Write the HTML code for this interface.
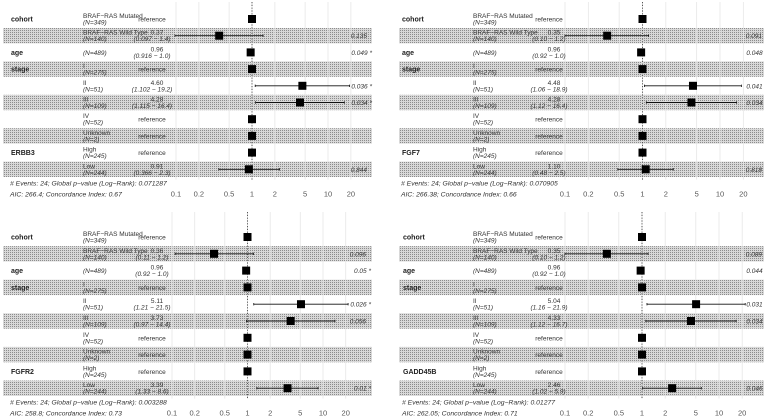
<!DOCTYPE html>
<html><head><meta charset="utf-8">
<style>
html,body{margin:0;padding:0;background:#fff;}
svg{display:block;font-family:"Liberation Sans",sans-serif;}
</style></head>
<body>
<svg id="chart" width="764" height="419" viewBox="0 0 764 419" xmlns="http://www.w3.org/2000/svg">
<defs>
<pattern id="grid" width="2" height="2" patternUnits="userSpaceOnUse">
<rect width="2" height="2" fill="#d8d8d8"/>
<rect width="1" height="1" fill="#8c8c8c"/>
</pattern>
</defs>
</svg>
<script>
const variables = ["cohort","","age","stage","","","","","GENE",""];
const levels = ["BRAF\u2212RAS Mutated","BRAF\u2212RAS Wild Type","","I","II","III","IV","Unknown","High","Low"];
const counts = [349,140,489,275,51,109,52,2,245,244];
const isRef = [true,false,false,true,false,false,true,true,true,false];
const genes = ["ERBB3","FGF7","FGFR2","GADD45B"];
const estTL = [1,0.37,0.96,1,4.60,4.28,1,1,1,0.91];
const loTL  = [1,0.097,0.916,1,1.102,1.115,1,1,1,0.366];
const hiTL  = [1,1.4,1.0,1,19.2,16.4,1,1,1,2.3];
const pTL   = ["","0.135","0.049 *","","0.036 *","0.034 *","","","","0.844"];
const estTR = [1,0.35,0.96,1,4.48,4.28,1,1,1,1.10];
const loTR  = [1,0.10,0.92,1,1.06,1.12,1,1,1,0.48];
const hiTR  = [1,1.2,1.0,1,18.9,16.4,1,1,1,2.5];
const pTR   = ["","0.091","0.048 *","","0.041 *","0.034 *","","","","0.818"];
const estBL = [1,0.36,0.96,1,5.11,3.73,1,1,1,3.39];
const loBL  = [1,0.11,0.92,1,1.21,0.97,1,1,1,1.33];
const hiBL  = [1,1.2,1.0,1,21.5,14.4,1,1,1,8.6];
const pBL   = ["","0.096","0.05 *","","0.026 *","0.056","","","","0.01 *"];
const estBR = [1,0.35,0.96,1,5.04,4.33,1,1,1,2.46];
const loBR  = [1,0.10,0.92,1,1.16,1.12,1,1,1,1.02];
const hiBR  = [1,1.2,1.0,1,21.9,16.7,1,1,1,5.9];
const pBR   = ["","0.089","0.044 *","","0.031 *","0.034 *","","","","0.046 *"];
const estLabels = [
 ["reference","0.37","0.96","reference","4.60","4.28","reference","reference","reference","0.91"],
 ["reference","0.35","0.96","reference","4.48","4.28","reference","reference","reference","1.10"],
 ["reference","0.36","0.96","reference","5.11","3.73","reference","reference","reference","3.39"],
 ["reference","0.35","0.96","reference","5.04","4.33","reference","reference","reference","2.46"]];
const ciLabels = [
 ["","(0.097 \u2212  1.4)","(0.916 \u2212  1.0)","","(1.102 \u2212 19.2)","(1.115 \u2212 16.4)","","","","(0.366 \u2212  2.3)"],
 ["","(0.10 \u2212  1.2)","(0.92 \u2212  1.0)","","(1.06 \u2212 18.9)","(1.12 \u2212 16.4)","","","","(0.48 \u2212  2.5)"],
 ["","(0.11 \u2212  1.2)","(0.92 \u2212  1.0)","","(1.21 \u2212 21.5)","(0.97 \u2212 14.4)","","","","(1.33 \u2212  8.6)"],
 ["","(0.10 \u2212  1.2)","(0.92 \u2212  1.0)","","(1.16 \u2212 21.9)","(1.12 \u2212 16.7)","","","","(1.02 \u2212  5.9)"]];
const globalP = ["0.071287","0.070905","0.003288","0.01277"];
const aic = ["266.4","266.38","258.8","262.05"];
const cindex = ["0.67","0.66","0.73","0.71"];
const ticks = [0.1,0.2,0.5,1,2,5,10,20];
const tickLabels = ["0.1","0.2","0.5","1","2","5","10","20"];

const svg = document.getElementById('chart');
const NS = "http://www.w3.org/2000/svg";
function mk(tag, attrs, parent){const e=document.createElementNS(NS,tag);for(const k in attrs)e.setAttribute(k,attrs[k]);(parent||svg).appendChild(e);return e;}
function txt(s, attrs, parent){const e=mk('text',attrs,parent);e.textContent=s;return e;}

const panels = [
 {ox:0,oy:0,nameX:11,levelX:83,estX:152,ax0:176,dec:76,pR:367,sx0:3,sx1:372,row0:19,pitch:16.7,f1:183,f2:194,est:estTL,lo:loTL,hi:hiTL,p:pTL},
 {ox:382,oy:0,nameX:402,levelX:473,estX:549,ax0:565,dec:77.5,pR:762,sx0:399,sx1:764,row0:19,pitch:16.7,f1:183,f2:194,est:estTR,lo:loTR,hi:hiTR,p:pTR},
 {ox:0,oy:210,nameX:11,levelX:83,estX:152,ax0:172,dec:75.5,pR:366,sx0:3,sx1:372,row0:237,pitch:16.8,f1:402,f2:413,est:estBL,lo:loBL,hi:hiBL,p:pBL},
 {ox:382,oy:210,nameX:403,levelX:473,estX:549,ax0:565,dec:77,pR:762,sx0:399,sx1:764,row0:237,pitch:16.8,f1:402,f2:413,est:estBR,lo:loBR,hi:hiBR,p:pBR}
];

panels.forEach((P,pi)=>{
  const g = mk('g',{});
  
  
  const xs = v => P.ax0 + (Math.log10(v)+1)*P.dec;
  const ys = i => P.row0 + i*P.pitch;
  const top = P.oy+2, bottom = P.row0 + 9.5*P.pitch + 2;
  for(let i=1;i<10;i+=2){
    const r = mk('rect',{x:P.sx0,y:ys(i)-7.7,width:P.sx1-P.sx0,height:15.4,fill:'url(#grid)'},g);
    
    
  }
  ticks.forEach((t,k)=>{
    const l = mk('line',{x1:xs(t),x2:xs(t),y1:top,y2:bottom,stroke:'#e6e6e6','stroke-width':0.8},g);
    
    
    const tl = txt(tickLabels[k],{x:xs(t),y:P.f2+2.5,'font-size':7.5,fill:'#555','text-anchor':'middle'},g);
    
    
  });
  const ref = mk('line',{x1:xs(1),x2:xs(1),y1:top,y2:bottom,stroke:'#333','stroke-width':0.8,'stroke-dasharray':'1.2,1.6'},g);
  
  
  for(let i=0;i<10;i++){
    const y = ys(i);
    let vn = variables[i]==="GENE"?genes[pi]:variables[i];
    if(vn){const t=txt(vn,{x:P.nameX,y:y+2.5,'font-size':7,'font-weight':'bold',fill:'#222'},g);
      
      }
    if(levels[i]){const t=txt(levels[i],{x:P.levelX,y:y-1,'font-size':6.5,fill:'#333'},g);
      
      
      const n=txt('(N='+counts[i]+')',{x:P.levelX,y:y+5.5,'font-size':6.5,'font-style':'italic',fill:'#333'},g);
      
      
    } else {const n=txt('(N='+counts[i]+')',{x:P.levelX,y:y+2.5,'font-size':6.5,'font-style':'italic',fill:'#333'},g);
      
      }
    if(isRef[i]){const t=txt('reference',{x:P.estX,y:y+2.5,'font-size':6.5,fill:'#333','text-anchor':'middle'},g);
      
      }
    else {
      const t=txt(estLabels[pi][i],{x:P.estX+5,y:y-1,'font-size':6.5,fill:'#333','text-anchor':'middle'},g);
      
      
      const c=txt(ciLabels[pi][i],{x:P.estX,y:y+5.5,'font-size':6.5,'font-style':'italic',fill:'#333','text-anchor':'middle'},g);
      
      
      const l=mk('line',{x1:xs(P.lo[i]),x2:xs(P.hi[i]),y1:y,y2:y,stroke:'#111','stroke-width':0.9},g);
      
      
      [P.lo[i],P.hi[i]].forEach(v=>{mk('line',{x1:xs(v),x2:xs(v),y1:y-1.2,y2:y+1.2,stroke:'#111','stroke-width':0.8},g);});
    }
    const s=mk('rect',{x:xs(P.est[i])-4,y:y-4,width:8,height:8,fill:'#000'},g);
    
    
    if(P.p[i]){const star=P.p[i].indexOf('*')>=0;
      const t=txt(P.p[i],{x:star?P.pR+5:P.pR,y:y+2.5,'font-size':6.5,'font-style':'italic',fill:'#333','text-anchor':'end'},g);
      
      }
  }
  const f1=txt('# Events: 24; Global p\u2212value (Log\u2212Rank): '+globalP[pi],{x:P.nameX-1,y:P.f1+2.5,'font-size':6.8,'font-style':'italic',fill:'#333'},g);
  
  
  const f2=txt('AIC: '+aic[pi]+'; Concordance Index: '+cindex[pi],{x:P.nameX-1,y:P.f2+2.5,'font-size':6.8,'font-style':'italic',fill:'#333'},g);
  
  
});
</script>
</body></html>
